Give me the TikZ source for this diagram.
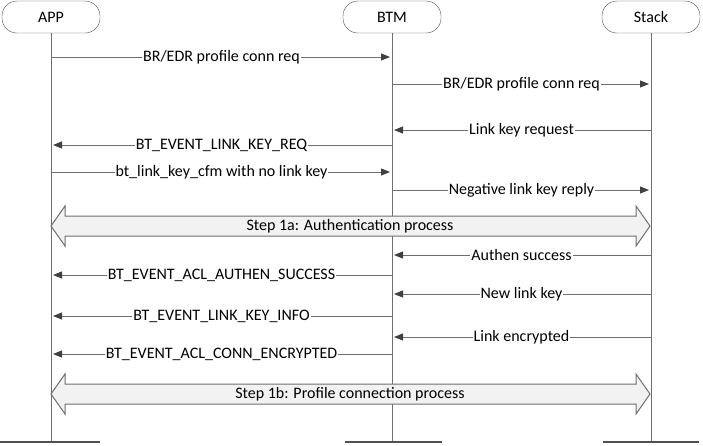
\documentclass[tikz,border=0pt]{standalone}
\usepackage{fontspec}
\setmainfont{Carlito}
\usepackage{xcolor}
\usetikzlibrary{positioning,arrows.meta}

\definecolor{linegray}{RGB}{110,110,110}
\definecolor{tipgray}{RGB}{64,64,64}
\definecolor{boxgray}{RGB}{80,80,80}
\definecolor{blockfill}{RGB}{242,242,242}

\tikzset{
  head/.style={draw=boxgray, rounded corners=15pt, minimum width=98pt,
    minimum height=32pt, inner sep=0pt, font=\fontsize{16}{19}\selectfont},
  life/.style={draw=linegray, line width=1pt},
  bar/.style={draw=boxgray, line width=2pt},
  msg/.style={draw=linegray, line width=1pt,
    -{Triangle[length=9pt,width=7pt,color=tipgray]}, shorten >=2pt},
  lbl/.style={fill=white, inner sep=1pt, font=\fontsize{16}{19}\selectfont},
  block/.style={draw=linegray, fill=blockfill, line width=1pt},
  steplbl/.style={inner sep=0pt, font=\fontsize{16}{19}\selectfont}
}

\begin{document}
\begin{tikzpicture}[x=1pt, y=-1pt]
\useasboundingbox (0,0) rectangle (703,445);
% lifelines
\node[head] (app) at (51,17) {APP};
\node[head] (btm) at (392,17) {BTM};
\node[head] (stack) at (651,17) {Stack};
\coordinate (app end) at (51,442);
\coordinate (btm end) at (392,442);
\coordinate (stack end) at (651,442);
\draw[life] (app) -- (app end);
\draw[life] (btm) -- (btm end);
\draw[life] (stack) -- (stack end);
\draw[bar] ([xshift=-51pt]app end) -- ([xshift=49pt]app end);
\draw[bar] ([xshift=-47pt]btm end) -- ([xshift=50pt]btm end);
\draw[bar] ([xshift=-48pt]stack end) -- ([xshift=48pt]stack end);
% messages
\draw[msg] (app |- 0,57) -- node[lbl]{BR/EDR profile conn req} (btm |- 0,57);
\draw[msg] (btm |- 0,84) -- node[lbl]{BR/EDR profile conn req} (stack |- 0,84);
\draw[msg] (stack |- 0,130) -- node[lbl]{Link key request} (btm |- 0,130);
\draw[msg] (btm |- 0,145) -- node[lbl]{BT\_EVENT\_LINK\_KEY\_REQ} (app |- 0,145);
\draw[msg] (app |- 0,172) -- node[lbl]{bt\_link\_key\_cfm with no link key} (btm |- 0,172);
\draw[msg] (btm |- 0,190) -- node[lbl]{Negative link key reply} (stack |- 0,190);
% step 1a
\draw[block] (51,226) -- ++(14,-20) -- ++(0,10) -- (636,216) -- ++(0,-10)
  -- (650,226) -- (636,246) -- ++(0,-10) -- (65,236) -- ++(0,10) -- cycle;
\node[steplbl] (step1a) at (350,226) {Step 1a: Authentication process};
\draw[msg] (stack |- 0,255) -- node[lbl]{Authen success} (btm |- 0,255);
\draw[msg] (btm |- 0,275) -- node[lbl]{BT\_EVENT\_ACL\_AUTHEN\_SUCCESS} (app |- 0,275);
\draw[msg] (stack |- 0,294) -- node[lbl]{New link key} (btm |- 0,294);
\draw[msg] (btm |- 0,316) -- node[lbl]{BT\_EVENT\_LINK\_KEY\_INFO} (app |- 0,316);
\draw[msg] (stack |- 0,337) -- node[lbl]{Link encrypted} (btm |- 0,337);
\draw[msg] (btm |- 0,354) -- node[lbl]{BT\_EVENT\_ACL\_CONN\_ENCRYPTED} (app |- 0,354);
% step 1b
\draw[block] (51,394) -- ++(14,-20) -- ++(0,10) -- (636,384) -- ++(0,-10)
  -- (650,394) -- (636,414) -- ++(0,-10) -- (65,404) -- ++(0,10) -- cycle;
\node[steplbl] (step1b) at (350,394) {Step 1b: Profile connection process};
\end{tikzpicture}
\end{document}
